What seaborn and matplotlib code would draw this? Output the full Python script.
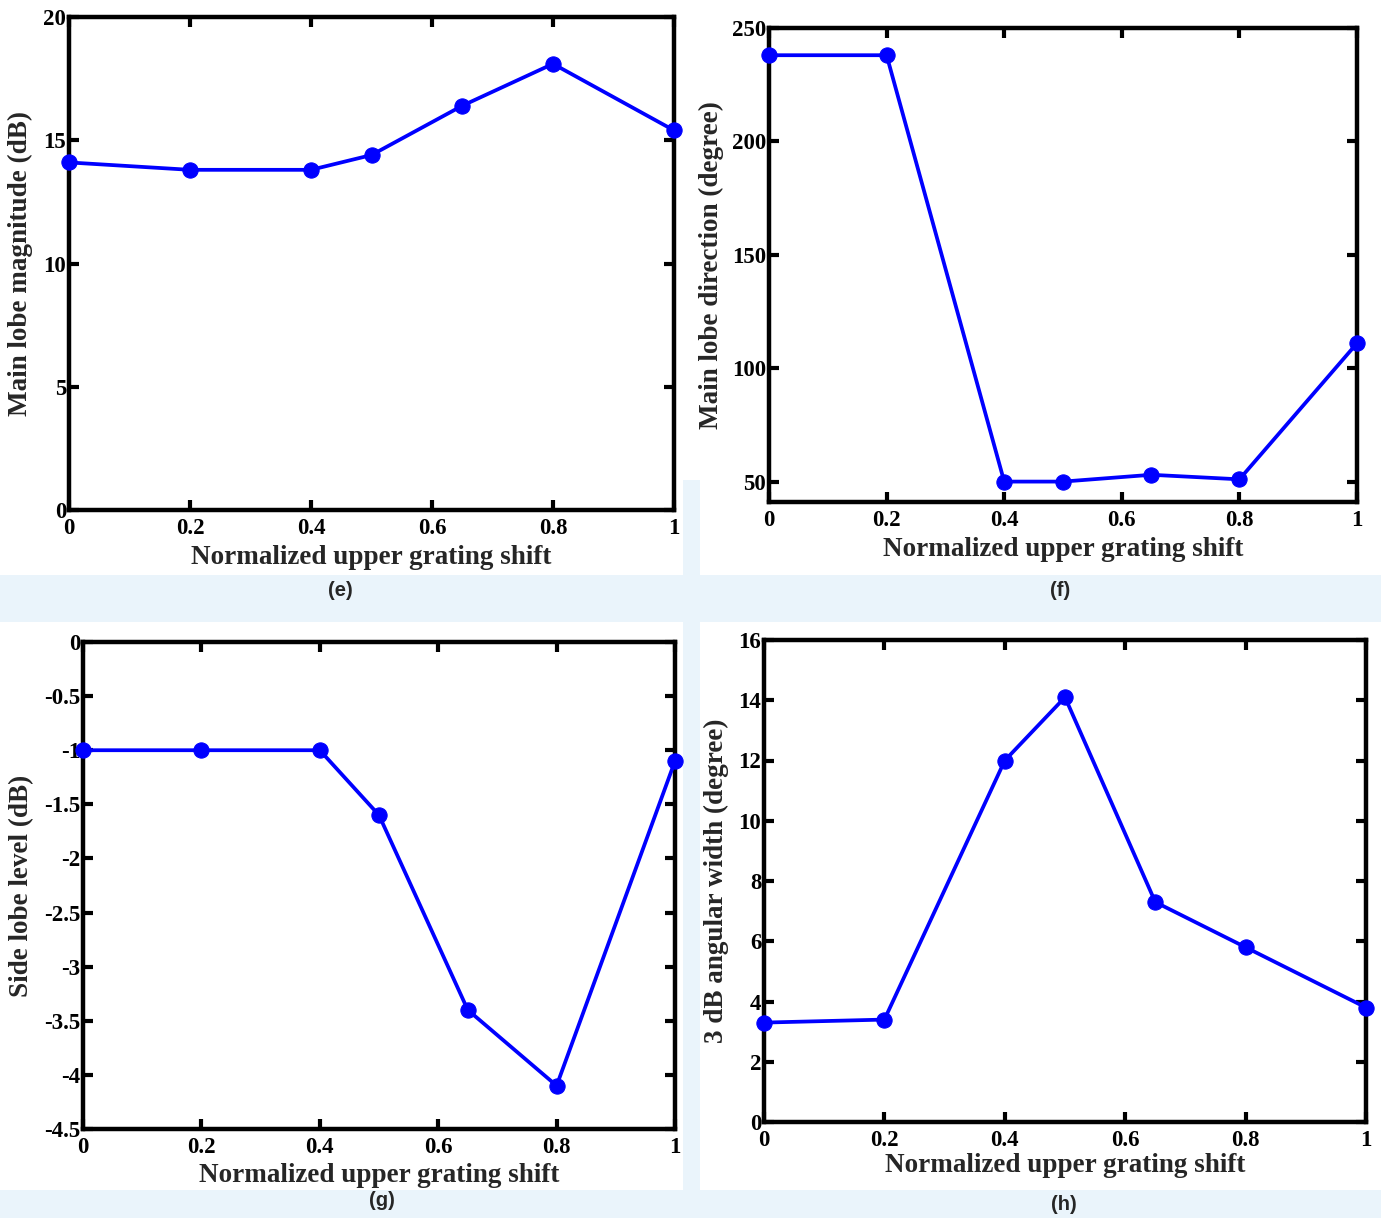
import matplotlib
matplotlib.use("Agg")
import matplotlib.pyplot as plt
import seaborn as sns
import pandas as pd
import numpy as np

# ---- data ----
shift = [0.0, 0.2, 0.4, 0.5, 0.65, 0.8, 1.0]
main_lobe_mag = [14.1, 13.8, 13.8, 14.4, 16.4, 18.1, 15.4]
main_lobe_dir = [238, 238, 50, 50, 53, 51, 111]
side_lobe_level = [-1.0, -1.0, -1.0, -1.6, -3.4, -4.1, -1.1]
width_3db = [3.3, 3.4, 12.0, 14.1, 7.3, 5.8, 3.8]

x_ticks = [0, 0.2, 0.4, 0.6, 0.8, 1.0]
x_tick_labels = ["0", "0.2", "0.4", "0.6", "0.8", "1"]
e_yticks = [0, 5, 10, 15, 20]
e_ylabels = ["0", "5", "10", "15", "20"]
f_yticks = [50, 100, 150, 200, 250]
f_ylabels = ["50", "100", "150", "200", "250"]
g_yticks = [0, -0.5, -1, -1.5, -2, -2.5, -3, -3.5, -4, -4.5]
g_ylabels = ["0", "-0.5", "-1", "-1.5", "-2", "-2.5", "-3", "-3.5", "-4", "-4.5"]
h_yticks = [0, 2, 4, 6, 8, 10, 12, 14, 16]
h_ylabels = ["0", "2", "4", "6", "8", "10", "12", "14", "16"]

xlabel = "Normalized upper grating shift"

sns.set_theme(style="white")
plt.rcParams["font.family"] = ["Liberation Serif", "DejaVu Serif"]
plt.rcParams["axes.unicode_minus"] = False

W, H = 1381, 1218
fig = plt.figure(figsize=(W / 100, H / 100), dpi=100)
fig.patch.set_facecolor("white")

# faint watermark-like background tints in the gaps
for (x0, y0, x1, y1) in [(0, 575, 1381, 622), (0, 1190, 1381, 1218), (683, 480, 700, 1218)]:
    fig.patches.append(plt.Rectangle((x0 / W, 1 - y1 / H), (x1 - x0) / W, (y1 - y0) / H,
                                     transform=fig.transFigure, facecolor="#eaf4fb",
                                     edgecolor="none", zorder=-10))

def px_axes(l, t, r, b):
    return fig.add_axes([l / W, 1 - b / H, (r - l) / W, (b - t) / H])

panels = [
    dict(box=(69, 17, 674, 510), y=main_lobe_mag, ylim=(0, 20), yt=e_yticks, yl=e_ylabels,
         ylabel="Main lobe magnitude (dB)", cap="(e)", cap_xy=(340, 590),
         ylab_x=20, xlab_y=557),
    dict(box=(769, 28, 1357, 502), y=main_lobe_dir, ylim=(41, 250), yt=f_yticks, yl=f_ylabels,
         ylabel="Main lobe direction (degree)", cap="(f)", cap_xy=(1060, 590),
         ylab_x=711, xlab_y=549),
    dict(box=(83, 642, 675, 1129), y=side_lobe_level, ylim=(-4.5, 0), yt=g_yticks, yl=g_ylabels,
         ylabel="Side lobe level (dB)", cap="(g)", cap_xy=(382, 1201),
         ylab_x=22, xlab_y=1175),
    dict(box=(764, 640, 1366, 1122), y=width_3db, ylim=(0, 16), yt=h_yticks, yl=h_ylabels,
         ylabel="3 dB angular width (degree)", cap="(h)", cap_xy=(1064, 1205),
         ylab_x=716, xlab_y=1166),
]

for p in panels:
    ax = px_axes(*p["box"])
    df = pd.DataFrame({"x": shift, "y": p["y"]})
    sns.lineplot(data=df, x="x", y="y", ax=ax, color="#0000FF", linewidth=2.7,
                 marker="o", markersize=11, markeredgecolor="#0000FF",
                 markerfacecolor="#0000FF", clip_on=False, zorder=5)
    ax.set_xlim(0, 1)
    ax.set_ylim(*p["ylim"])
    ax.set_xticks(x_ticks)
    ax.set_xticklabels(x_tick_labels)
    ax.set_yticks(p["yt"])
    ax.set_yticklabels(p["yl"])
    ax.set_xlabel("")
    ax.set_ylabel("")
    ax.set_facecolor("white")
    for s in ax.spines.values():
        s.set_visible(True)
        s.set_color("black")
        s.set_linewidth(3.2)
    ax.tick_params(axis="both", which="both", direction="in", length=7, width=3,
                   top=True, right=True, bottom=True, left=True,
                   labelsize=16.5, colors="black")
    ax.tick_params(axis="x", pad=6)
    ax.tick_params(axis="y", pad=2)
    for lab in ax.get_xticklabels() + ax.get_yticklabels():
        lab.set_fontweight("bold")
    l, t, r, b = p["box"]
    fig.text(p["ylab_x"] / W, 1 - ((t + b) / 2) / H, p["ylabel"], rotation=90,
             ha="center", va="center", fontsize=19.5, fontweight="bold")
    fig.text(((l + r) / 2) / W, 1 - p["xlab_y"] / H, xlabel,
             ha="center", va="center", fontsize=19.5, fontweight="bold")
    fig.text(p["cap_xy"][0] / W, 1 - p["cap_xy"][1] / H, p["cap"],
             ha="center", va="center", fontsize=14.5, fontweight="bold",
             family=["Liberation Sans", "DejaVu Sans"])

fig.savefig("out.png", dpi=100)
